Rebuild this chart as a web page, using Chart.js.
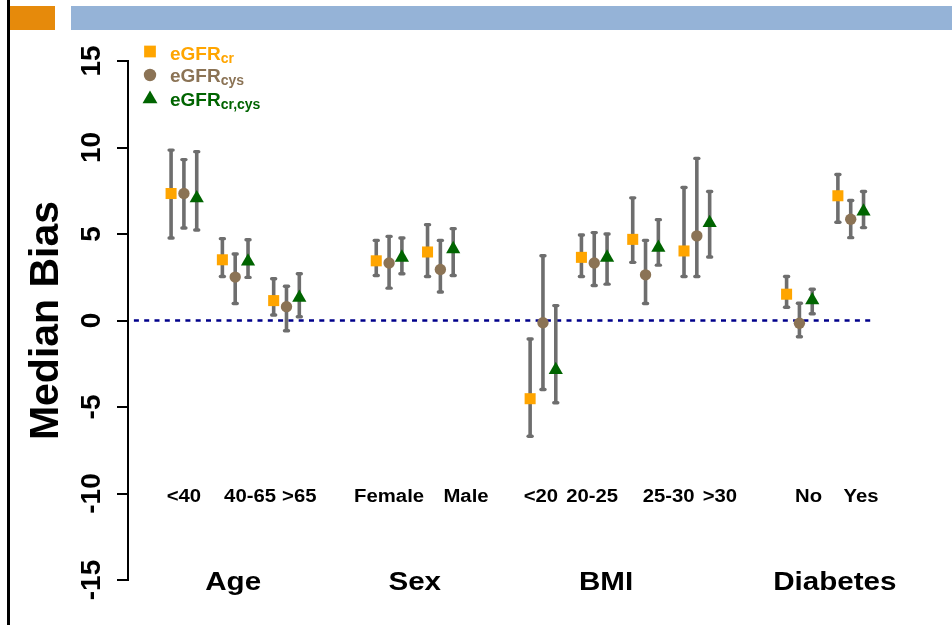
<!DOCTYPE html>
<html>
<head>
<meta charset="utf-8">
<script src="https://cdn.jsdelivr.net/npm/chart.js@4/dist/chart.umd.min.js"></script>
<style>
  html, body { margin: 0; padding: 0; background: #fff; }
  #wrap { position: relative; width: 952px; height: 625px; overflow: hidden; }
  #chart { position: absolute; left: 0; top: 0; }
  .rule-left { position: absolute; left: 7px; top: 0; width: 3px; height: 625px; background: #000; }
  .tab-orange { position: absolute; left: 10px; top: 6px; width: 45px; height: 24px; background: #E68A0B; }
  .tab-blue { position: absolute; left: 71px; top: 6px; width: 881px; height: 24px; background: #95B3D7; }
</style>
</head>
<body>
<div id="wrap">
  <canvas id="chart" width="952" height="625"></canvas>
  <div class="rule-left"></div>
  <div class="tab-orange"></div>
  <div class="tab-blue"></div>
</div>
<script>
// ---- data ----
const groups = ['Age', 'Sex', 'BMI', 'Diabetes'];
const groupSizes = [3, 2, 4, 2];
const subgroups = ['<40', '40-65', '>65', 'Female', 'Male', '<20', '20-25', '25-30', '>30', 'No', 'Yes'];
const yTicks = [-15, -10, -5, 0, 5, 10, 15];

const crMedian = [7.34, 3.51, 1.15, 3.45, 3.96, -4.52, 3.65, 4.69, 4.02, 1.52, 7.21];
const crLow    = [4.77, 2.54, 0.32, 2.60, 2.54, -6.69, 2.54, 3.36, 2.54, 0.77, 5.68];
const crHigh   = [9.85, 4.73, 2.41, 4.63, 5.54, -1.07, 4.94, 7.09, 7.69, 2.54, 8.44];

const cysMedian = [7.34, 2.51, 0.80, 3.32, 2.95, -0.13, 3.32, 2.64, 4.89, -0.16, 5.85];
const cysLow    = [5.35, 0.98, -0.59, 1.87, 1.65, -3.99, 2.02, 0.98, 2.54, -0.94, 4.79];
const cysHigh   = [9.30, 3.84, 1.98, 4.86, 4.63, 3.74, 5.08, 4.63, 9.37, 1.00, 6.94];

const bothMedian = [7.07, 3.42, 1.32, 3.64, 4.13, -2.86, 3.64, 4.21, 5.64, 1.17, 6.30];
const bothLow    = [5.23, 2.49, 0.22, 2.70, 2.60, -4.75, 2.10, 3.20, 3.67, 0.39, 5.37];
const bothHigh   = [9.76, 4.67, 2.70, 4.77, 5.31, 0.86, 5.00, 5.83, 7.46, 1.81, 7.46];

// ---- layout ----
const FONT = "'Liberation Sans', Arial, Helvetica, sans-serif";
const X_MIN = -1.09, X_MAX = 14.0;
const SERIES_OFFSET = 0.25;               // horizontal spread of the three estimators
const SUB_LABEL_SHIFT = [0, 0.29, 0.25, 0, 0.5, -0.04, -0.04, 0.45, 0.45, 0.18, 0.2];
const GROUP_LABEL_X = [0.96, 4.5, 8.23, 12.69];
const SUB_LABEL_Y = -10.2, GROUP_LABEL_Y = -15.2;
const REF_LINE_X = [-0.975, 13.47];

// one slot per subgroup, with an empty slot between groups
const slots = [];
let pos = 0;
groupSizes.forEach(n => { for (let i = 0; i < n; i++) slots.push(pos++); pos++; });
const groupStart = [];
groupSizes.reduce((acc, n) => { groupStart.push(acc); return acc + n; }, 0);

const series = [
  { name: 'eGFR', sub: 'cr',     median: crMedian,   low: crLow,   high: crHigh,   color: '#FFA500', style: 'rect',     radius: 7.8, shift: -1 },
  { name: 'eGFR', sub: 'cys',    median: cysMedian,  low: cysLow,  high: cysHigh,  color: '#8B7355', style: 'circle',   radius: 5.7, shift: 0 },
  { name: 'eGFR', sub: 'cr,cys', median: bothMedian, low: bothLow, high: bothHigh, color: '#006400', style: 'triangle', radius: 8.2, shift: 1 }
];

const datasets = series.map((s, k) => ({
  type: 'scatter',
  label: s.name + s.sub,
  data: s.median.map((v, i) => ({ x: slots[i] + s.shift * SERIES_OFFSET, y: v })),
  errLow: s.low,
  errHigh: s.high,
  pointStyle: s.style,
  pointRadius: s.radius,
  pointHoverRadius: s.radius,
  backgroundColor: s.color,
  borderWidth: 0,
  order: 1 + k
}));

datasets.push({
  type: 'line',
  label: 'zero',
  data: [{ x: REF_LINE_X[0], y: 0 }, { x: REF_LINE_X[1], y: 0 }],
  borderColor: '#00008B',
  borderWidth: 2.6,
  borderDash: [5, 5.3],
  pointRadius: 0,
  order: 10
});

// whiskers with short rounded caps, drawn just before each series' markers
const errorBars = {
  id: 'errorBars',
  beforeDatasetDraw(chart, args) {
    const ds = chart.data.datasets[args.index];
    if (!ds.errLow) return;
    const { ctx, scales: { x, y } } = chart;
    ctx.save();
    ctx.strokeStyle = '#6E6E6E';
    ds.data.forEach((p, i) => {
      const px = x.getPixelForValue(p.x);
      const yl = y.getPixelForValue(ds.errLow[i]);
      const yh = y.getPixelForValue(ds.errHigh[i]);
      ctx.lineWidth = 3.6;
      ctx.lineCap = 'butt';
      ctx.beginPath(); ctx.moveTo(px, yl); ctx.lineTo(px, yh); ctx.stroke();
      ctx.lineWidth = 3.4;
      ctx.lineCap = 'round';
      [yl, yh].forEach(yy => {
        ctx.beginPath(); ctx.moveTo(px - 2, yy); ctx.lineTo(px + 2, yy); ctx.stroke();
      });
    });
    ctx.restore();
  }
};

function stretchedText(ctx, text, x, y, size, sx) {
  ctx.save();
  ctx.translate(x, y);
  ctx.scale(sx, 1);
  ctx.font = 'bold ' + size + 'px ' + FONT;
  ctx.fillStyle = '#000';
  ctx.textAlign = 'center';
  ctx.textBaseline = 'middle';
  ctx.fillText(text, 0, 0);
  ctx.restore();
}

// category labels placed inside the plot at y = -10 and y = -15
const categoryLabels = {
  id: 'categoryLabels',
  afterDatasetsDraw(chart) {
    const { ctx, scales: { x, y } } = chart;
    subgroups.forEach((t, i) => {
      stretchedText(ctx, t, x.getPixelForValue(slots[i] + SUB_LABEL_SHIFT[i]), y.getPixelForValue(SUB_LABEL_Y), 17.5, 1.16);
    });
    groups.forEach((g, j) => {
      stretchedText(ctx, g, x.getPixelForValue(GROUP_LABEL_X[j]), y.getPixelForValue(GROUP_LABEL_Y), 25.5, 1.16);
    });
  }
};

// legend with subscripted estimator names
const subscriptLegend = {
  id: 'subscriptLegend',
  afterDraw(chart) {
    const ctx = chart.ctx;
    const rows = [{ my: 51.5, base: 60 }, { my: 75, base: 82 }, { my: 99, base: 106 }];
    const legendRadius = [8.3, 6.2, 8.6];
    series.forEach((s, k) => {
      const r = rows[k];
      ctx.save();
      ctx.fillStyle = s.color;
      Chart.helpers.drawPoint(ctx, { pointStyle: s.style, radius: legendRadius[k], borderWidth: 0, rotation: 0 }, 150, r.my);
      ctx.textAlign = 'left';
      ctx.textBaseline = 'alphabetic';
      ctx.font = 'bold 19px ' + FONT;
      ctx.fillText(s.name, 170, r.base);
      const w = ctx.measureText(s.name).width;
      ctx.font = 'bold 14px ' + FONT;
      ctx.fillText(s.sub, 170 + w, r.base + 3);
      ctx.restore();
    });
  }
};

new Chart(document.getElementById('chart'), {
  data: { datasets },
  options: {
    responsive: false,
    animation: false,
    events: [],
    layout: { padding: { top: 61, bottom: 45, left: 0, right: 50 } },
    plugins: { legend: { display: false }, tooltip: { enabled: false } },
    scales: {
      x: { type: 'linear', min: X_MIN, max: X_MAX, display: false },
      y: {
        type: 'linear',
        min: -15,
        max: 15,
        afterBuildTicks: s => { s.ticks = yTicks.map(v => ({ value: v })); },
        afterFit: s => { s.width = 128; },
        grid: { drawOnChartArea: false, drawTicks: true, tickLength: 11, color: '#000', lineWidth: 2 },
        border: { display: true, color: '#000', width: 2 },
        ticks: {
          font: { family: FONT, size: 28, weight: 'bold' },
          color: '#000',
          minRotation: 90,
          maxRotation: 90,
          crossAlign: 'center',
          padding: 4,
          autoSkip: false
        },
        title: {
          display: true,
          text: 'Median Bias',
          font: { family: FONT, size: 41, weight: 'bold' },
          color: '#000',
          padding: { top: 22, bottom: 0 }
        }
      }
    }
  },
  plugins: [errorBars, categoryLabels, subscriptLegend]
});
</script>
</body>
</html>
